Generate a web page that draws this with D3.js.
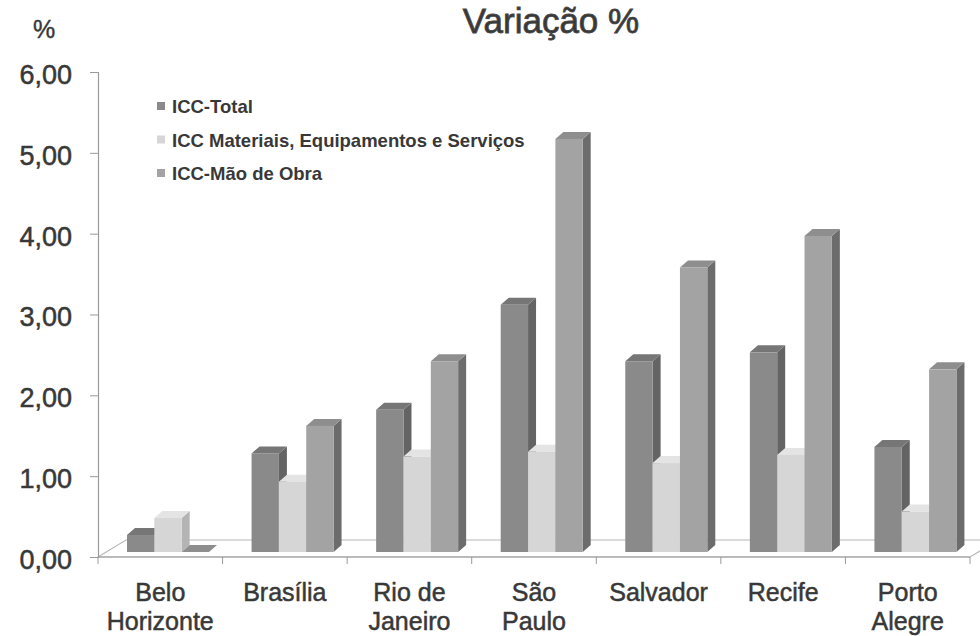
<!DOCTYPE html>
<meta charset="utf-8">
<style>
  body { margin: 0; background: #fff; }
  text { font-family: "Liberation Sans", Arial, sans-serif; fill: #383838; }
</style>
<script src="https://d3js.org/d3.v7.min.js"></script>

<div id="my_dataviz"></div>

<script>

// data
var cities = ["Belo|Horizonte", "Brasília", "Rio de|Janeiro", "São|Paulo", "Salvador", "Recife", "Porto|Alegre"];
var series = ["ICC-Total", "ICC Materiais, Equipamentos e Serviços", "ICC-Mão de Obra"];
var iccTotal     = [0.21, 1.22, 1.76, 3.06, 2.36, 2.47, 1.30];
var iccMateriais = [0.42, 0.87, 1.18, 1.24, 1.10, 1.20, 0.50];
var iccMaoObra   = [0.00, 1.56, 2.36, 5.11, 3.52, 3.91, 2.26];
var yTicks = [0, 1, 2, 3, 4, 5, 6];

var values = [iccTotal, iccMateriais, iccMaoObra];
var colors = [
  {front: "#8a8a8a", top: "#767676", side: "#646464"},
  {front: "#d6d6d6", top: "#e4e4e4", side: "#b4b4b4"},
  {front: "#a3a3a3", top: "#8e8e8e", side: "#6c6c6c"}
];

var width = 980, height = 636;
var plotLeft = 98, plotRight = 970, plotBottom = 557, plotTop = 72;
var floorDepth = {dx: 28, dy: -17};   // 3d floor depth
var barDepth = {dx: 8, dy: -7};       // bar side / top depth
var barLift = 5;                      // bars stand slightly back on the floor

var svg = d3.select("#my_dataviz")
  .append("svg")
    .attr("width", width)
    .attr("height", height);

var x = d3.scaleBand()
  .domain(cities)
  .range([plotLeft, plotRight]);

var xs = d3.scaleBand()
  .domain(series)
  .range([29, 111]);

var y = d3.scaleLinear()
  .domain([0, 6])
  .range([plotBottom, plotTop]);

// floor
var floor = svg.append("g").attr("stroke", "#b8b8b8").attr("fill", "none").attr("stroke-width", 1.2);
floor.append("path")
  .attr("d", "M" + plotLeft + "," + plotBottom + "L" + (plotLeft + floorDepth.dx) + "," + (plotBottom + floorDepth.dy) +
             "L" + (plotRight + floorDepth.dx) + "," + (plotBottom + floorDepth.dy) +
             "L" + plotRight + "," + plotBottom + "Z");

// y axis
var yAxis = svg.append("g")
  .attr("transform", "translate(" + plotLeft + ",0)")
  .call(d3.axisLeft(y).tickValues(yTicks).tickSize(8).tickFormat(function(d) { return d3.format(".2f")(d).replace(".", ","); }));
yAxis.select(".domain").attr("stroke", "#9a9a9a").attr("stroke-width", 1.2);
yAxis.selectAll(".tick line").attr("stroke", "#9a9a9a");
yAxis.selectAll(".tick text")
  .attr("x", -26)
  .attr("dy", "0.42em")
  .style("font-size", "27px")
  .attr("fill", "#383838")
  .attr("stroke", "#383838")
  .attr("stroke-width", 0.5);

// x axis (front edge of floor)
var xAxis = svg.append("g")
  .attr("transform", "translate(0," + plotBottom + ")");
xAxis.append("line")
  .attr("x1", plotLeft).attr("x2", plotRight)
  .attr("stroke", "#9a9a9a").attr("stroke-width", 1.2);
xAxis.selectAll(".tk")
  .data(cities.concat(["end"]))
  .enter().append("line")
    .attr("x1", function(d, i) { return i < cities.length ? x(d) : plotRight; })
    .attr("x2", function(d, i) { return i < cities.length ? x(d) : plotRight; })
    .attr("y1", 0).attr("y2", 7)
    .attr("stroke", "#9a9a9a");

var labels = xAxis.selectAll(".lbl")
  .data(cities)
  .enter().append("text")
    .attr("text-anchor", "middle")
    .attr("x", function(d) { return x(d) + x.bandwidth() / 2; })
    .attr("y", 44)
    .style("font-size", "25px")
    .attr("stroke", "#383838")
    .attr("stroke-width", 0.5);
labels.each(function(d) {
  var lines = d.split("|");
  d3.select(this).selectAll("tspan")
    .data(lines)
    .enter().append("tspan")
      .attr("x", x(d) + x.bandwidth() / 2)
      .attr("dy", function(l, i) { return i ? 29 : 0; })
      .text(function(l) { return l; });
});

// bars
var bars = svg.append("g");
cities.forEach(function(c, ci) {
  series.forEach(function(s, si) {
    var v = values[si][ci];
    var x0 = x(c) + xs(s), w = xs.bandwidth();
    var y0 = y(0) - barLift, y1 = y(v) - barLift;
    var col = colors[si];
    var g = bars.append("g");
    // side
    g.append("path")
      .attr("d", "M" + (x0 + w) + "," + y1 + "L" + (x0 + w + barDepth.dx) + "," + (y1 + barDepth.dy) +
                 "L" + (x0 + w + barDepth.dx) + "," + (y0 + barDepth.dy) + "L" + (x0 + w) + "," + y0 + "Z")
      .attr("fill", col.side);
    // top
    g.append("path")
      .attr("d", "M" + x0 + "," + y1 + "L" + (x0 + barDepth.dx) + "," + (y1 + barDepth.dy) +
                 "L" + (x0 + w + barDepth.dx) + "," + (y1 + barDepth.dy) + "L" + (x0 + w) + "," + y1 + "Z")
      .attr("fill", col.top);
    // front
    g.append("rect")
      .attr("x", x0).attr("y", y1)
      .attr("width", w).attr("height", y0 - y1)
      .attr("fill", col.front);
  });
});

// titles
svg.append("text")
  .attr("x", 551).attr("y", 33)
  .attr("text-anchor", "middle")
  .style("font-size", "35px")
  .attr("fill", "#474747").attr("stroke", "#474747").attr("stroke-width", 0.8)
  .text("Variação %");

svg.append("text")
  .attr("x", 44).attr("y", 38)
  .attr("text-anchor", "middle")
  .style("font-size", "25px")
  .attr("stroke", "#383838").attr("stroke-width", 0.4)
  .text("%");

// legend
var legend = svg.append("g")
  .selectAll("g")
  .data(series)
  .enter().append("g")
    .attr("transform", function(d, i) { return "translate(157," + (113 + i * 33.5) + ")"; });
legend.append("rect")
  .attr("x", 0).attr("y", -11)
  .attr("width", 8).attr("height", 8)
  .attr("fill", function(d, i) { return colors[i].front; });
legend.append("text")
  .attr("x", 15)
  .style("font-size", "18.5px")
  .style("font-weight", "bold")
  .attr("fill", "#2e2e2e")
  .text(function(d) { return d; });

</script>
